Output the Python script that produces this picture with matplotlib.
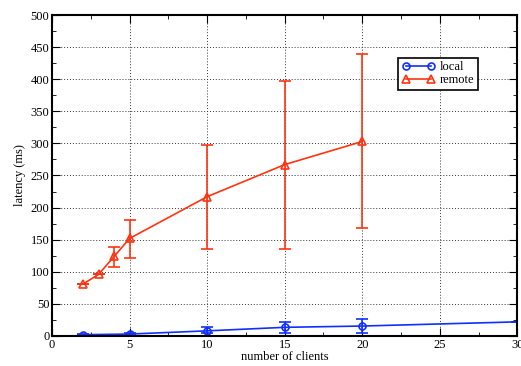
import matplotlib
matplotlib.use("Agg")
import matplotlib.pyplot as plt
from matplotlib.ticker import MultipleLocator
from matplotlib.lines import Line2D

plt.rcParams['font.family'] = ['Liberation Serif', 'DejaVu Serif']
plt.rcParams['font.size'] = 9

local_x = [2, 5, 10, 15, 20, 30]
local_y = [2, 3, 8, 13.5, 15.5, 22]
local_lo = [1, 1, 4, 8.5, 10.5, 0]
local_hi = [1, 1, 6, 8.5, 10.5, 0]

remote_x = [2, 3, 4, 5, 10, 15, 20]
remote_y = [81, 96, 124, 152, 217, 267, 303]
remote_lo = [0, 0, 16, 31, 82, 131, 135]
remote_hi = [0, 0, 15, 28, 80, 130, 137]

blue = '#1030ff'
red = '#ff3311'

fig = plt.figure(figsize=(5.21, 3.66), dpi=100)
ax = fig.add_axes([0.1, 0.082, 0.893, 0.877])

lstyle = dict(color=blue, marker='o', markersize=5, markerfacecolor='none',
              markeredgewidth=1.2, lw=1.2)
rstyle = dict(color=red, marker='^', markersize=6, markerfacecolor='none',
              markeredgewidth=1.2, lw=1.2)

ax.errorbar(local_x, local_y, yerr=[local_lo, local_hi], capsize=4, elinewidth=1.2,
            capthick=1.2, markevery=list(range(len(local_x) - 1)), **lstyle)
ax.errorbar(remote_x, remote_y, yerr=[remote_lo, remote_hi], capsize=4, elinewidth=1.2,
            capthick=1.2, **rstyle)

ax.set_xlim(0, 30)
ax.set_ylim(0, 500)
ax.xaxis.set_major_locator(MultipleLocator(5))
ax.xaxis.set_minor_locator(MultipleLocator(2.5))
ax.yaxis.set_major_locator(MultipleLocator(50))
ax.yaxis.set_minor_locator(MultipleLocator(25))
ax.tick_params(which='both', direction='in', top=True, right=True, pad=2)
ax.tick_params(which='major', length=6)
ax.tick_params(which='minor', length=3)
ax.grid(True, which='major', color='#333333', linestyle=(0, (1, 2)), lw=0.7)
for s in ax.spines.values():
    s.set_linewidth(1.5)

ax.set_xlabel('number of clients', labelpad=0)
ax.set_ylabel('latency (ms)', labelpad=3)

handles = [Line2D([], [], **lstyle), Line2D([], [], **rstyle)]
leg = ax.legend(handles, ['local', 'remote'], loc='upper left',
                bbox_to_anchor=(0.744, 0.867), frameon=True, numpoints=2,
                fancybox=False, edgecolor='black', framealpha=1, handlelength=2.6,
                borderpad=0.3, labelspacing=0.05, handletextpad=0.4, borderaxespad=0)
leg.get_frame().set_linewidth(1.2)

fig.savefig('out.png', dpi=100)
